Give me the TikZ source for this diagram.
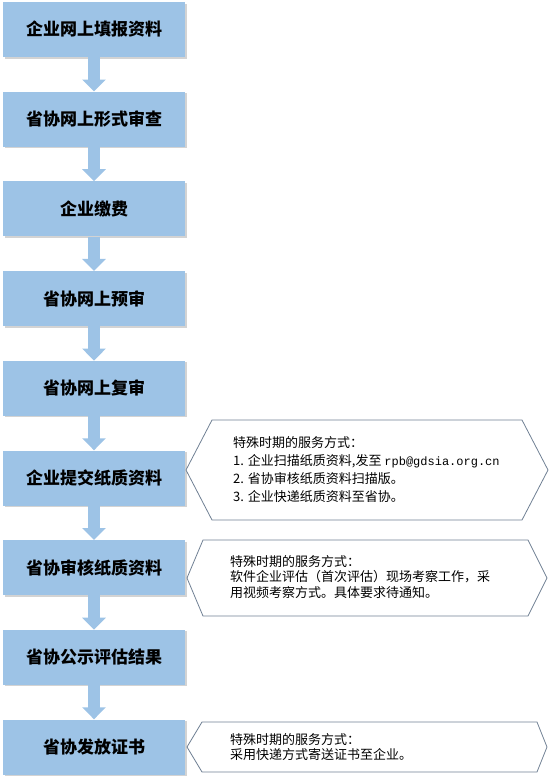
\documentclass[tikz,border=0pt]{standalone}
\usepackage{fontspec}
\newfontfamily\cjk{Noto Sans CJK SC}
\newfontfamily\cjkmono{Liberation Mono}
\usetikzlibrary{arrows.meta}
\usetikzlibrary{shadows}
\definecolor{boxblue}{RGB}{157,195,230}
\definecolor{hexline}{RGB}{112,128,148}

\begin{document}
\begin{tikzpicture}[
  x=1pt, y=-1pt,
  stepbox/.style = {fill=boxblue, minimum width=182pt, minimum height=55pt, inner sep=0pt,
    font=\cjk\bfseries\fontsize{17}{20}\selectfont,
    drop shadow={shadow xshift=1.5pt, shadow yshift=-1.5pt, opacity=0.35, fill=gray}},
  flow/.style = {draw=boxblue, line width=12pt, -{Triangle[length=12pt,width=23pt]}},
  hexa/.style = {draw=hexline, line width=0.8pt, fill=white},
  note/.style = {anchor=west, inner sep=0pt, align=left, font=\cjk}
  ]
\useasboundingbox (0,0) rectangle (550,779);

\node[stepbox] (s1) at (94,29.5) {企业网上填报资料};
\node[stepbox] (s2) at (94,119.2) {省协网上形式审查};
\node[stepbox] (s3) at (94,208.9) {企业缴费};
\node[stepbox] (s4) at (94,298.6) {省协网上预审};
\node[stepbox] (s5) at (94,388.3) {省协网上复审};
\node[stepbox] (s6) at (94,478) {企业提交纸质资料};
\node[stepbox] (s7) at (94,567.7) {省协审核纸质资料};
\node[stepbox] (s8) at (94,657.4) {省协公示评估结果};
\node[stepbox] (s9) at (94,747) {省协发放证书};

\draw[flow] (s1.south) -- (s2.north);
\draw[flow] (s2.south) -- (s3.north);
\draw[flow] (s3.south) -- (s4.north);
\draw[flow] (s4.south) -- (s5.north);
\draw[flow] (s5.south) -- (s6.north);
\draw[flow] (s6.south) -- (s7.north);
\draw[flow] (s7.south) -- (s8.north);
\draw[flow] (s8.south) -- (s9.north);

% notes
\draw[hexa] (186,470) -- (212,420) -- (522,420) -- (548,470) -- (522,520) -- (212,520) -- cycle;
\node[note, font=\cjk\fontsize{13}{18}\selectfont] (n1) at (233,470)
  {特殊时期的服务方式：\\
   1. 企业扫描纸质资料,发至 {\cjkmono\fontsize{12}{18}\selectfont rpb@gdsia.org.cn}\\
   2. 省协审核纸质资料扫描版。\\
   3. 企业快递纸质资料至省协。};

\draw[hexa] (187,578) -- (203,540) -- (528,540) -- (547,578) -- (528,616) -- (203,616) -- cycle;
\node[note, font=\cjk\fontsize{13}{15.5}\selectfont] (n2) at (230,577)
  {特殊时期的服务方式：\\
   软件企业评估（首次评估）现场考察工作，采\\
   用视频考察方式。具体要求待通知。};

\draw[hexa] (187,747) -- (202,722) -- (537,722) -- (547,747) -- (537,772) -- (202,772) -- cycle;
\node[note, font=\cjk\fontsize{13}{14.5}\selectfont] (n3) at (230,747)
  {特殊时期的服务方式：\\
   采用快递方式寄送证书至企业。};

\end{tikzpicture}
\end{document}
